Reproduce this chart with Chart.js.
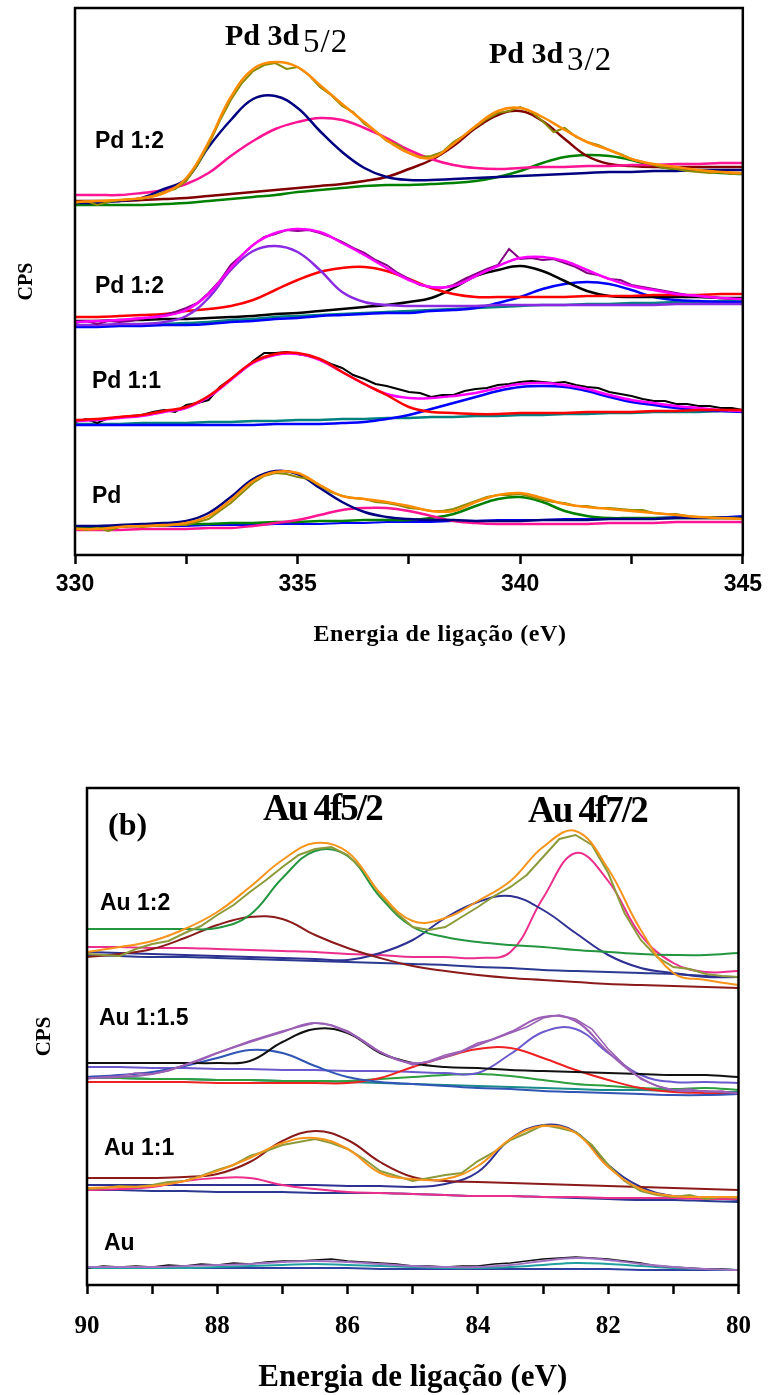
<!DOCTYPE html>
<html>
<head>
<meta charset="utf-8">
<script src="https://cdn.jsdelivr.net/npm/chart.js@4.4.1/dist/chart.umd.min.js"></script>
<style>
  html, body { margin: 0; padding: 0; background: #fff; }
  body { width: 769px; height: 1395px; position: relative; overflow: hidden; }
  .panel { position: absolute; left: 0; width: 769px; }
  #pdBox { top: 0; height: 680px; }
  #auBox { top: 740px; height: 655px; }
</style>
</head>
<body>
<div id="pdBox" class="panel"><canvas id="pdChart"></canvas></div>
<div id="auBox" class="panel"><canvas id="auChart"></canvas></div>
<script>
// ---------- Pd 3d region (binding energy, eV) ----------
const pdEnergy = [330,330.5,331,331.5,332,332.5,333,333.5,334,334.5,335,335.5,336,336.5,337,337.5,338,338.5,339,339.5,340,340.5,341,341.5,342,342.5,343,343.5,344,344.5,345];
const pdEnergyFine = [330,330.25,330.5,330.75,331,331.25,331.5,331.75,332,332.25,332.5,332.75,333,333.25,333.5,333.75,334,334.25,334.5,334.75,335,335.25,335.5,335.75,336,336.25,336.5,336.75,337,337.25,337.5,337.75,338,338.25,338.5,338.75,339,339.25,339.5,339.75,340,340.25,340.5,340.75,341,341.25,341.5,341.75,342,342.25,342.5,342.75,343,343.25,343.5,343.75,344,344.25,344.5,344.75,345];
const pdTicks = [330, 335, 340, 345];

// Pd 1:2 (upper spectrum), intensity in arbitrary units (stacked)
const pd12aRaw  = [352,354,350,353,355,356,356,359,363,366,374,390,410,434,455,472,484,490,492,486,488,480,468,460,449,443,431,424,414,410,402,398,399,403,413,420,428,436,442,444,448,443,434,423,427,418,413,410,405,401,396,393,390,387,386,384,383,382,383,381,381];
const pd12aFit  = [353,354,355,357,362,377,413,458,486,493,488,470,451,433,415,402,397,411,429,444,447,438,425,413,405,396,391,388,385,383,382];
const pd12aPk1  = [352,352,354,357,366,376,408,435,456,459,447,424,403,387,378,375,375,376,377,378,379,380,381,382,383,383,384,384,385,385,385];
const pd12aPk2  = [360,360,360,362,365,371,382,399,414,426,433,437,435,427,417,405,396,390,387,386,387,388,388,389,389,390,390,391,391,392,392];
const pd12aPk3  = [354,354,354,355,356,357,359,361,363,365,367,369,371,374,378,386,395,409,427,440,444,434,416,399,391,389,388,388,388,388,388];
const pd12aPk4  = [350,350,350,350,351,352,354,356,358,360,363,365,367,369,370,370,371,372,374,378,384,392,398,400,399,395,389,386,384,382,381];

// Pd 1:2 (second spectrum)
const pd12bRaw  = [232,234,231,234,233,234,236,238,240,243,247,252,262,274,290,300,310,318,321,325,324,325,322,318,313,307,302,295,290,282,276,270,268,267,270,276,281,286,290,306,296,297,295,296,292,288,282,280,276,275,270,268,266,264,262,260,259,258,257,256,256];
const pd12bFit  = [233,234,235,237,239,245,261,287,310,322,326,323,312,300,287,275,268,269,279,289,297,298,294,285,276,269,265,261,259,257,256];
const pd12bPk1  = [230,230,231,231,233,239,257,285,304,309,303,285,263,253,250,249,249,249,249,250,250,250,250,250,250,250,250,251,251,251,251];
const pd12bPk2  = [238,238,239,240,241,244,246,249,255,265,275,283,287,288,284,276,267,261,258,258,258,258,258,259,259,259,260,260,260,261,261];
const pd12bPk3  = [234,234,235,235,236,236,237,238,239,241,242,244,246,248,250,253,257,267,279,285,289,284,274,264,259,258,258,258,258,257,257];
const pd12bPk4  = [228,228,229,229,230,230,231,233,234,236,237,239,240,241,242,242,244,245,247,252,258,266,271,273,271,265,258,255,254,253,253];
const pd12bBase = [229,229,230,230,231,232,233,235,236,238,239,240,241,242,243,244,245,246,247,248,249,250,250,251,251,252,252,253,253,254,254];

// Pd 1:1
const pd11Raw   = [133,136,132,137,137,139,140,143,145,143,150,152,155,168,176,184,194,202,202,203,201,199,196,191,187,180,176,171,169,166,163,162,158,160,160,164,166,167,170,171,173,174,173,172,173,170,168,167,163,161,159,156,154,154,151,151,149,149,147,147,145];
const pd11Fit   = [134,135,137,139,143,147,158,175,192,200,201,195,183,171,161,157,157,159,162,167,171,172,170,166,160,155,152,149,147,145,144];
const pd11Pk1   = [135,136,138,140,144,148,159,176,193,201,202,196,183,171,160,148,143,142,141,141,142,142,142,143,143,143,144,144,145,145,145];
const pd11Pk2   = [130,130,130,130,130,130,130,130,130,131,131,131,132,133,136,140,146,152,158,164,168,169,168,164,158,153,150,147,145,144,143];
const pd11Base  = [131,131,131,132,132,132,133,133,134,134,135,135,136,136,137,137,138,138,139,139,140,140,141,141,142,142,143,143,143,144,144];

// Pd
const pdRaw     = [27,25,27,24,28,29,28,29,29,30,30,33,36,44,52,62,72,79,82,81,78,76,69,63,59,57,56,53,52,50,47,46,44,44,46,50,54,58,60,60,61,58,55,53,52,49,49,47,47,46,45,45,42,41,41,39,38,38,37,37,36];
const pdFit     = [26,26,28,29,30,32,39,55,74,83,82,70,59,56,53,49,44,44,53,60,62,57,51,48,46,44,42,40,38,37,36];
const pdPk1     = [29,29,30,31,32,34,42,58,76,84,81,67,53,43,38,36,35,35,34,34,34,35,35,35,36,36,36,37,37,37,37];
const pdPk2     = [25,25,25,26,26,26,27,27,29,32,35,40,45,47,47,44,39,34,32,31,31,31,31,31,32,32,32,33,33,33,33];
const pdPk3     = [28,28,29,30,30,31,31,32,32,33,33,34,34,35,35,35,37,41,49,56,58,53,44,39,37,37,37,37,37,37,37];
const pdBase    = [28,28,28,29,29,29,30,30,30,31,31,31,32,32,33,33,33,34,34,35,35,35,36,36,37,37,37,38,38,38,39];

// ---------- Au 4f region (binding energy, eV) ----------
const auEnergy = [90,89.5,89,88.5,88,87.5,87,86.5,86,85.5,85,84.5,84,83.5,83,82.5,82,81.5,81,80.5,80];
const auEnergyFine = [90,89.75,89.5,89.25,89,88.75,88.5,88.25,88,87.75,87.5,87.25,87,86.75,86.5,86.25,86,85.75,85.5,85.25,85,84.75,84.5,84.25,84,83.75,83.5,83.25,83,82.75,82.5,82.25,82,81.75,81.5,81.25,81,80.75,80.5,80.25,80];
const auTicks = [90, 88, 86, 84, 82, 80];

// Au 1:2
const au12Raw   = [331,330,329,336,341,344,352,359,370,380,393,405,418,430,436,438,430,414,390,372,358,355,358,368,378,389,398,410,428,446,450,440,412,372,345,328,318,316,311,309,308];
const au12Fit   = [333,338,344,356,373,398,425,442,433,392,364,367,384,404,438,454,416,355,312,305,300];
const au12Pk1   = [356,356,356,356,357,370,407,434,429,388,358,348,343,340,338,335,333,331,330,330,332];
const au12Pk2   = [328,331,336,347,360,368,366,350,337,327,319,314,310,307,305,303,301,300,299,298,297];
const au12Pk3   = [333,332,331,330,329,328,327,326,325,332,345,367,383,389,375,352,330,317,312,308,308];
const au12Pk4   = [338,338,337,337,336,335,334,333,331,330,328,328,327,333,387,432,404,350,322,313,314];
const au12Base  = [330,329,328,328,327,326,325,324,323,322,321,320,318,317,315,314,313,312,311,309,308];

// Au 1:1.5
const au115Raw  = [206,208,209,212,211,214,220,225,232,238,244,249,254,258,262,260,254,244,233,226,220,224,230,234,242,246,252,258,267,270,266,256,236,220,206,199,195,196,193,194,191];
const au115Fit  = [207,208,211,220,232,243,253,262,253,233,222,228,240,253,268,264,233,207,195,194,192];
const au115Pk1  = [222,222,222,222,222,224,243,256,252,232,222,218,217,215,214,213,212,211,210,210,208];
const au115Pk2  = [208,210,213,219,227,235,232,219,208,203,201,199,197,196,194,193,192,191,190,190,191];
const au115Pk3  = [203,203,203,203,202,202,202,202,202,207,218,228,236,237,227,215,205,197,193,192,191];
const au115Pk4  = [218,218,217,217,216,216,215,215,214,214,213,212,212,231,253,256,232,210,203,203,202];
const au115Pk5  = [207,207,206,206,205,205,204,204,204,206,208,210,211,209,205,201,199,197,196,197,195];
const au115Base = [207,207,206,206,205,205,204,204,203,202,201,200,199,198,197,196,195,195,194,193,193];

// Au 1:1
const au11Raw   = [96,97,99,98,100,103,104,109,115,120,129,134,140,143,146,142,136,126,114,109,104,107,110,112,124,133,145,152,160,157,153,140,120,104,94,90,88,90,86,88,87];
const au11Fit   = [97,98,99,104,114,127,142,147,136,112,106,106,119,146,159,152,118,96,89,88,88];
const au11Pk1   = [107,107,107,108,111,123,144,154,145,123,108,104,103,102,101,100,99,98,97,96,95];
const au11Pk2   = [95,96,98,104,107,107,100,96,93,92,91,90,89,89,88,88,87,87,87,86,86];
const au11Pk3   = [100,100,100,100,100,100,100,100,99,99,98,101,113,146,160,153,120,98,89,87,85];
const au11Base  = [95,95,94,94,93,93,93,92,92,92,91,90,89,89,88,87,86,85,85,84,83];

// Au
const auRaw     = [17,19,18,19,18,20,19,21,20,22,21,23,24,24,25,26,24,23,22,21,19,19,18,19,19,21,22,24,26,27,28,27,26,24,22,19,18,17,16,16,15];
const auFit     = [18,18,18,19,20,21,23,24,23,21,19,18,18,20,24,27,25,21,18,16,15];
const auPk      = [17,17,17,17,18,19,20,21,20,19,18,17,17,18,20,22,21,19,17,16,15];
const auBase    = [18,18,18,17,17,17,17,17,17,16,16,16,16,16,16,16,16,15,15,15,15];

// ---------- helpers ----------
const SANS = '"Liberation Sans", Arial, sans-serif';
const SERIF = '"Liberation Serif", "Times New Roman", serif';

function pairs(xs, ys) { return ys.map((y, i) => ({ x: xs[i], y })); }

// smooth fitted component
function fitLine(label, xs, ys, color, width) {
  return { label, data: pairs(xs, ys), borderColor: color, borderWidth: width,
           pointRadius: 0, fill: false, tension: 0.4 };
}
// measured (noisy) trace
function rawLine(label, xs, ys, color, width) {
  return { label, data: pairs(xs, ys), borderColor: color, borderWidth: width,
           pointRadius: 0, fill: false, tension: 0 };
}

// frame around the plot area plus free-standing labels
const panelDecor = {
  id: 'panelDecor',
  afterDraw(chart, args, opts) {
    const { ctx, chartArea: a } = chart;
    ctx.save();
    ctx.strokeStyle = '#000';
    ctx.lineWidth = opts.frameWidth;
    ctx.strokeRect(a.left, a.top, a.right - a.left, a.bottom - a.top);
    ctx.fillStyle = '#000';
    for (const t of opts.texts) {
      ctx.font = t.font;
      ctx.textAlign = t.align || 'left';
      ctx.textBaseline = t.baseline || 'alphabetic';
      ctx.letterSpacing = t.spacing || '0px';
      ctx.fillText(t.text, t.x, t.y);
    }
    ctx.restore();
  }
};

// ---------- Pd chart (first dataset is drawn on top) ----------
const pdDatasets = [
  fitLine('Pd 1:2 envelope', pdEnergy, pd12aFit, '#ff8c00', 2.5),
  rawLine('Pd 1:2 raw', pdEnergyFine, pd12aRaw, '#8a8a00', 2),
  fitLine('Pd 1:2 peak 1', pdEnergy, pd12aPk1, '#000080', 2.5),
  fitLine('Pd 1:2 peak 2', pdEnergy, pd12aPk2, '#ff1493', 2.5),
  fitLine('Pd 1:2 peak 3', pdEnergy, pd12aPk3, '#800000', 2.5),
  fitLine('Pd 1:2 peak 4', pdEnergy, pd12aPk4, '#008000', 2.5),

  fitLine('Pd 1:2 (b) envelope', pdEnergy, pd12bFit, '#ff00ff', 2.5),
  rawLine('Pd 1:2 (b) raw', pdEnergyFine, pd12bRaw, '#800080', 2),
  fitLine('Pd 1:2 (b) peak 1', pdEnergy, pd12bPk1, '#8a2be2', 2.5),
  fitLine('Pd 1:2 (b) peak 2', pdEnergy, pd12bPk2, '#ff0000', 2.5),
  fitLine('Pd 1:2 (b) peak 3', pdEnergy, pd12bPk3, '#000000', 2.5),
  fitLine('Pd 1:2 (b) peak 4', pdEnergy, pd12bPk4, '#0000ff', 2.5),
  fitLine('Pd 1:2 (b) background', pdEnergy, pd12bBase, '#008080', 2.5),

  fitLine('Pd 1:1 peak 1', pdEnergy, pd11Pk1, '#ff0000', 2.5),
  fitLine('Pd 1:1 envelope', pdEnergy, pd11Fit, '#ff00ff', 2.5),
  rawLine('Pd 1:1 raw', pdEnergyFine, pd11Raw, '#000000', 2),
  fitLine('Pd 1:1 peak 2', pdEnergy, pd11Pk2, '#0000ff', 2.5),
  fitLine('Pd 1:1 background', pdEnergy, pd11Base, '#008080', 2.5),

  fitLine('Pd envelope', pdEnergy, pdFit, '#ff8c00', 2.5),
  rawLine('Pd raw', pdEnergyFine, pdRaw, '#8a8a00', 2),
  fitLine('Pd peak 1', pdEnergy, pdPk1, '#000080', 2.5),
  fitLine('Pd peak 2', pdEnergy, pdPk2, '#ff1493', 2.5),
  fitLine('Pd peak 3', pdEnergy, pdPk3, '#008000', 2.5),
  fitLine('Pd background', pdEnergy, pdBase, '#0000ff', 2)
];

new Chart(document.getElementById('pdChart'), {
  type: 'line',
  data: { datasets: pdDatasets },
  plugins: [panelDecor],
  options: {
    responsive: true, maintainAspectRatio: false, animation: false,
    layout: { padding: { top: 8, right: 24, left: 0, bottom: 0 } },
    plugins: {
      legend: { display: false }, tooltip: { enabled: false },
      panelDecor: {
        frameWidth: 2.5,
        texts: [
          { text: 'Pd 3d', x: 225, y: 45, font: 'bold 30px ' + SERIF },
          { text: '5/2', x: 303, y: 52, font: '33px ' + SERIF, spacing: '1px' },
          { text: 'Pd 3d', x: 489, y: 63, font: 'bold 30px ' + SERIF },
          { text: '3/2', x: 567, y: 70, font: '33px ' + SERIF, spacing: '1px' },
          { text: 'Pd 1:2', x: 95, y: 148, font: 'bold 23px ' + SANS },
          { text: 'Pd 1:2', x: 95, y: 293, font: 'bold 23px ' + SANS },
          { text: 'Pd 1:1', x: 92, y: 388, font: 'bold 23px ' + SANS },
          { text: 'Pd', x: 92, y: 503, font: 'bold 23px ' + SANS },
          { text: 'Energia de ligação (eV)', x: 440, y: 635, align: 'center', baseline: 'middle',
            font: 'bold 24px ' + SERIF, spacing: '0.6px' }
        ]
      }
    },
    scales: {
      x: {
        type: 'linear', min: 330, max: 345,
        afterFit: s => { s.height = 125; },
        ticks: {
          stepSize: 2.5, autoSkip: false, maxRotation: 0, padding: 7, color: '#000',
          font: { family: SANS, size: 23, weight: 'bold' },
          callback: v => (pdTicks.includes(v) ? String(v) : '')
        },
        grid: { display: true, drawOnChartArea: false, drawTicks: true, tickLength: 9, tickWidth: 2.5, tickColor: '#000' },
        border: { display: false }
      },
      y: {
        min: 0, max: 547,
        afterFit: s => { s.width = 75; },
        ticks: { display: false }, grid: { display: false }, border: { display: false },
        title: { display: true, text: 'CPS', color: '#000',
                 font: { family: SERIF, size: 20, weight: 'bold', lineHeight: 1 }, padding: { top: 17, bottom: 0 } }
      }
    }
  }
});

// ---------- Au chart ----------
const auDatasets = [
  fitLine('Au 1:2 envelope', auEnergy, au12Fit, '#f7941d', 2),
  rawLine('Au 1:2 raw', auEnergyFine, au12Raw, '#8d9a3a', 2),
  fitLine('Au 1:2 peak 1', auEnergy, au12Pk1, '#23963f', 2),
  fitLine('Au 1:2 peak 2', auEnergy, au12Pk2, '#8b1a1a', 2),
  fitLine('Au 1:2 peak 3', auEnergy, au12Pk3, '#2e3192', 2),
  fitLine('Au 1:2 peak 4', auEnergy, au12Pk4, '#ec2f8c', 2),
  fitLine('Au 1:2 background', auEnergy, au12Base, '#2b3990', 2),

  fitLine('Au 1:1.5 envelope', auEnergy, au115Fit, '#9b5fb5', 2),
  rawLine('Au 1:1.5 raw', auEnergyFine, au115Raw, '#9b5fb5', 1.5),
  fitLine('Au 1:1.5 peak 1', auEnergy, au115Pk1, '#111111', 2),
  fitLine('Au 1:1.5 peak 2', auEnergy, au115Pk2, '#3055b5', 2),
  fitLine('Au 1:1.5 peak 3', auEnergy, au115Pk3, '#ee2222', 2),
  fitLine('Au 1:1.5 peak 4', auEnergy, au115Pk4, '#6a5acd', 2),
  fitLine('Au 1:1.5 peak 5', auEnergy, au115Pk5, '#2e9e3e', 2),
  fitLine('Au 1:1.5 background', auEnergy, au115Base, '#1a8a8a', 2),

  fitLine('Au 1:1 envelope', auEnergy, au11Fit, '#f7941d', 2),
  rawLine('Au 1:1 raw', auEnergyFine, au11Raw, '#8d9a3a', 2),
  fitLine('Au 1:1 peak 1', auEnergy, au11Pk1, '#8b1a1a', 2),
  fitLine('Au 1:1 peak 2', auEnergy, au11Pk2, '#ec2f8c', 2),
  fitLine('Au 1:1 peak 3', auEnergy, au11Pk3, '#2e3192', 2),
  fitLine('Au 1:1 background', auEnergy, au11Base, '#2b3990', 2),

  fitLine('Au envelope', auEnergy, auFit, '#a070c0', 2),
  rawLine('Au raw', auEnergyFine, auRaw, '#111111', 1.5),
  fitLine('Au peak', auEnergy, auPk, '#20a0a0', 2),
  fitLine('Au background', auEnergy, auBase, '#3040a0', 2)
];

new Chart(document.getElementById('auChart'), {
  type: 'line',
  data: { datasets: auDatasets },
  plugins: [panelDecor],
  options: {
    responsive: true, maintainAspectRatio: false, animation: false,
    layout: { padding: { top: 48, right: 27, left: 0, bottom: 0 } },
    plugins: {
      legend: { display: false }, tooltip: { enabled: false },
      panelDecor: {
        frameWidth: 2.5,
        texts: [
          { text: '(b)', x: 108, y: 95, font: 'bold 32px ' + SERIF },
          { text: 'Au 4f5/2', x: 263, y: 80, font: 'bold 37px ' + SERIF, spacing: '-2px' },
          { text: 'Au 4f7/2', x: 528, y: 82, font: 'bold 37px ' + SERIF, spacing: '-2px' },
          { text: 'Au 1:2', x: 100, y: 170, font: 'bold 23px ' + SANS },
          { text: 'Au 1:1.5', x: 99, y: 285, font: 'bold 23px ' + SANS },
          { text: 'Au 1:1', x: 104, y: 415, font: 'bold 23px ' + SANS },
          { text: 'Au', x: 104, y: 510, font: 'bold 23px ' + SANS }
        ]
      }
    },
    scales: {
      x: {
        type: 'linear', min: 80, max: 90, reverse: true,
        afterFit: s => { s.height = 110; },
        ticks: {
          stepSize: 1, autoSkip: false, maxRotation: 0, padding: 18, color: '#000',
          font: { family: SERIF, size: 25, weight: 'bold' },
          callback: v => (auTicks.includes(v) ? String(v) : '')
        },
        grid: { display: true, drawOnChartArea: false, drawTicks: true, tickLength: 9, tickWidth: 2.5, tickColor: '#000' },
        border: { display: false },
        title: { display: true, text: 'Energia de ligação (eV)', color: '#000',
                 font: { family: SERIF, size: 31, weight: 'bold', lineHeight: 1 }, padding: { top: 0, bottom: 2 } }
      },
      y: {
        min: 0, max: 497,
        afterFit: s => { s.width = 87; },
        ticks: { display: false }, grid: { display: false }, border: { display: false },
        title: { display: true, text: 'CPS', color: '#000',
                 font: { family: SERIF, size: 21, weight: 'bold', lineHeight: 1 }, padding: { top: 34, bottom: 0 } }
      }
    }
  }
});
</script>
</body>
</html>
